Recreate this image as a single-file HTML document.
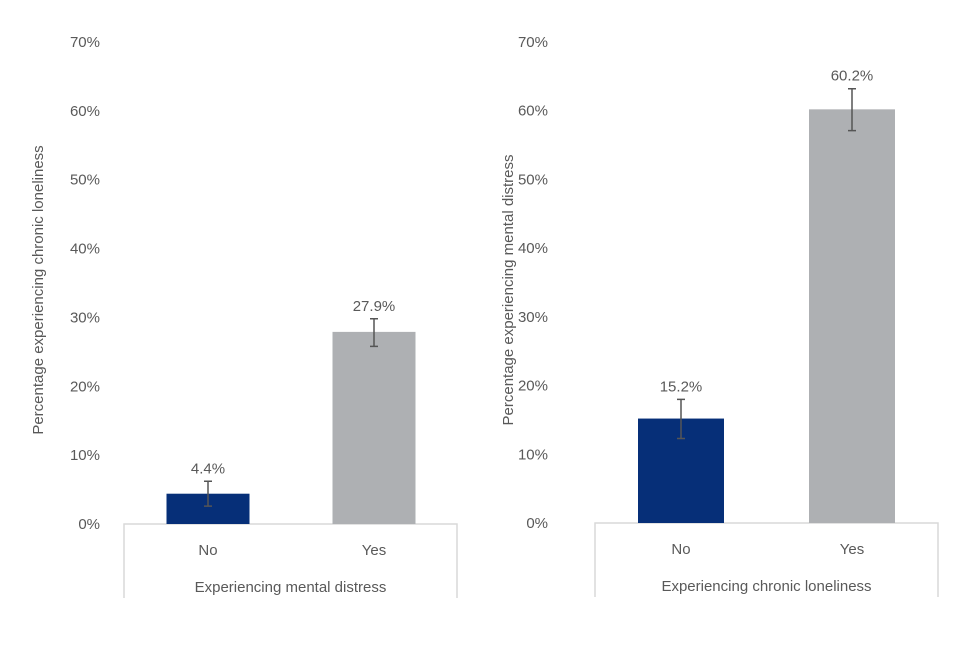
<!DOCTYPE html>
<html><head><meta charset="utf-8"><style>
body{margin:0;background:#fff}
svg text{font-family:"Liberation Sans",sans-serif;fill:#595959}
</style></head><body>
<svg id="c" width="960" height="640"></svg>
<script>
const ticks=[0,10,20,30,40,50,60,70];
const categories=["No","Yes"];
const leftValues=[4.4,27.9];
const leftErrLow=[2.6,25.8];
const leftErrHigh=[6.2,29.8];
const rightValues=[15.2,60.2];
const rightErrLow=[12.3,57.1];
const rightErrHigh=[18.0,63.2];
const colors=["#062f78","#aeb0b3"];
const svg=document.getElementById('c');
const NS="http://www.w3.org/2000/svg";
function el(t,a,p){const e=document.createElementNS(NS,t);for(const k in a)e.setAttribute(k,a[k]);(p||svg).appendChild(e);return e;}
function panel(cfg){
 const y=v=>cfg.y0-v*(cfg.y0-cfg.y70)/70;
 const g=el('g',{});
 
 
 ticks.forEach(t=>{const tx=el('text',{x:cfg.tickX,y:y(t)+5,'text-anchor':'end','font-size':15},g);tx.textContent=t+'%';
  });
 const yt=el('text',{x:0,y:0,'font-size':15,'text-anchor':'middle',transform:`translate(${cfg.titleX},${cfg.titleY}) rotate(-90)`},g);
 yt.textContent=cfg.yTitle;
 
 const box=el('path',{d:`M${cfg.ax0},${cfg.boxB}V${cfg.y0}H${cfg.ax1}V${cfg.boxB}`,fill:'none',stroke:'#d9d9d9','stroke-width':1.5},g);
 
 cfg.values.forEach((v,i)=>{
  const cx=cfg.centers[i];
  const r=el('rect',{x:cx-cfg.bw/2,y:y(v),width:cfg.bw,height:cfg.y0-y(v),fill:colors[i]},g);
  
  const eb=el('path',{d:`M${cx-4},${y(cfg.hi[i])}H${cx+4}M${cx},${y(cfg.hi[i])}V${y(cfg.lo[i])}M${cx-4},${y(cfg.lo[i])}H${cx+4}`,stroke:'#555',fill:'none','stroke-width':1.5},g);
  
  const lb=el('text',{x:cx,y:y(cfg.hi[i])-8,'text-anchor':'middle','font-size':15},g);lb.textContent=v.toFixed(1)+'%';
  
  const cl=el('text',{x:cx,y:cfg.y0+31,'text-anchor':'middle','font-size':15},g);cl.textContent=categories[i];
  
 });
 const xt=el('text',{x:(cfg.ax0+cfg.ax1)/2,y:cfg.y0+68,'text-anchor':'middle','font-size':15},g);xt.textContent=cfg.xTitle;
 
}
panel({name:'left-chart',y0:524,y70:42,tickX:100,ax0:124,ax1:457,boxB:598,centers:[208,374],bw:83,values:leftValues,lo:leftErrLow,hi:leftErrHigh,titleX:43,titleY:290,yTitle:'Percentage experiencing chronic loneliness',xTitle:'Experiencing mental distress'});
panel({name:'right-chart',y0:523,y70:42,tickX:548,ax0:595,ax1:938,boxB:597,centers:[681,852],bw:86,values:rightValues,lo:rightErrLow,hi:rightErrHigh,titleX:513,titleY:290,yTitle:'Percentage experiencing mental distress',xTitle:'Experiencing chronic loneliness'});
</script>
</body></html>
